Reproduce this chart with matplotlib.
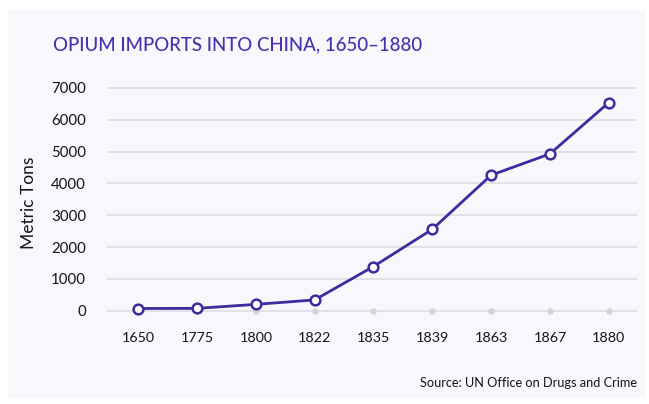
import matplotlib
matplotlib.use("Agg")
import matplotlib.pyplot as plt
from matplotlib.patches import Rectangle

years = ["1650", "1775", "1800", "1822", "1835", "1839", "1863", "1867", "1880"]
tons = [70, 75, 200, 340, 1390, 2560, 4260, 4930, 6540]
y_ticks = [0, 1000, 2000, 3000, 4000, 5000, 6000, 7000]

PURPLE = "#3f2a9e"
TITLE_C = "#4a30ad"
PANEL = "#f8f8fc"
GRID = "#e1e1e6"
TXT = "#151515"

plt.rcParams["font.family"] = ["Lato", "DejaVu Sans"]

fig = plt.figure(figsize=(6.49, 4.04), dpi=100)
fig.patch.set_facecolor("white")
fig.add_artist(Rectangle((8 / 649, 6 / 404), 637 / 649, 388 / 404,
                         transform=fig.transFigure, facecolor=PANEL,
                         edgecolor="none", zorder=-10))

ax = fig.add_axes([107 / 649, (404 - 317.1) / 404, 530 / 649, 232.3 / 404])
ax.set_facecolor("none")

x = list(range(len(years)))
# grey baseline dots at zero for each category
ax.scatter(x, [0] * len(x), s=22, color="#d4d4d8", zorder=2, linewidths=0)
ax.plot(x, tons, color=PURPLE, lw=2.0, zorder=3,
        marker="o", markersize=7, markerfacecolor="white",
        markeredgecolor=PURPLE, markeredgewidth=1.8)

ax.set_xlim(-0.53, 8.48)
ax.set_ylim(-200, 7100)
ax.set_yticks(y_ticks)
ax.set_yticklabels([str(v) for v in y_ticks])
ax.set_xticks(x)
ax.set_xticklabels(years)
ax.grid(axis="y", color=GRID, lw=1.4)
ax.set_axisbelow(True)
for s in ax.spines.values():
    s.set_visible(False)
ax.tick_params(axis="y", length=0, pad=15, labelsize=10.8, labelcolor=TXT)
ax.tick_params(axis="x", length=0, pad=11, labelsize=10.3, labelcolor=TXT)

ax.set_ylabel("Metric Tons", fontsize=12.5, color=TXT)
ax.yaxis.set_label_coords(-0.133, 0.49)

fig.text(53 / 649, (404 - 45) / 404, "OPIUM IMPORTS INTO CHINA, 1650\u20131880",
         ha="left", va="center", fontsize=13.4, color=TITLE_C, fontweight="medium")
fig.text(637 / 649, (404 - 383) / 404, "Source: UN Office on Drugs and Crime",
         ha="right", va="center", fontsize=9.2, color=TXT)

fig.savefig("out.png", dpi=100, facecolor="white")
